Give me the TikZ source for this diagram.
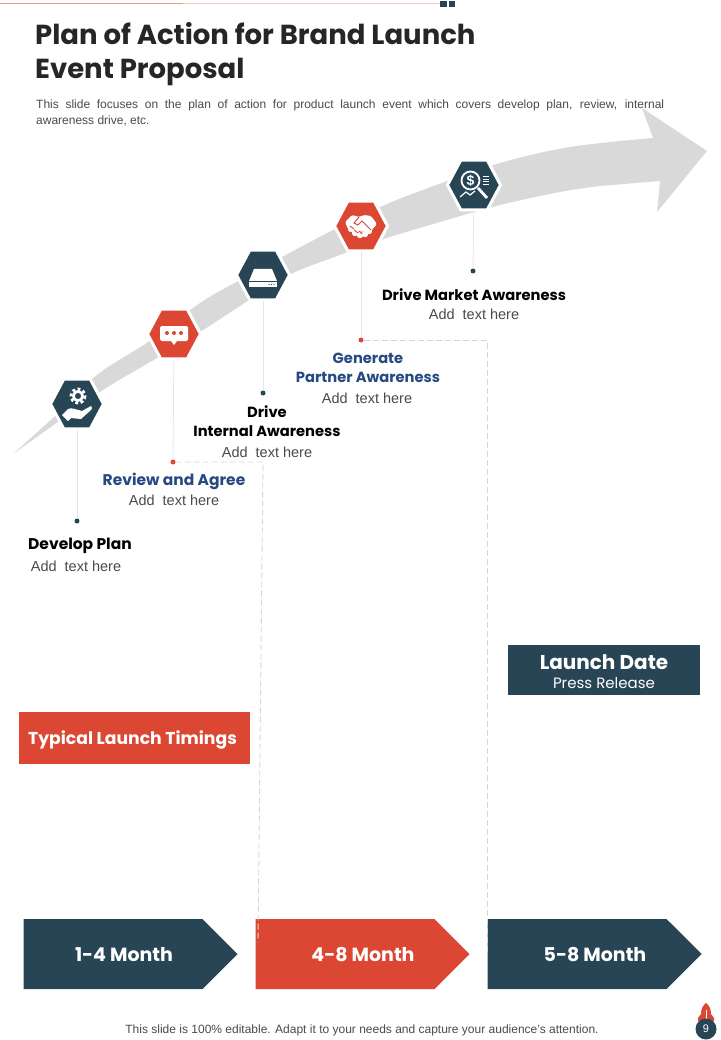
\documentclass[tikz,border=0pt]{standalone}
\usepackage{fontspec}
\setmainfont{Liberation Sans}
\newfontfamily\headfont{Poppins}
\usetikzlibrary{shapes.geometric,shapes.symbols}
\definecolor{navy}{HTML}{284555}
\definecolor{brick}{HTML}{DC4733}
\definecolor{band}{HTML}{D9D9D9}
\definecolor{inkblue}{HTML}{264A80}
\definecolor{bodygray}{HTML}{4A4A4A}
\definecolor{rulegray}{HTML}{D6D6D6}
\definecolor{stemgray}{HTML}{E6E6E6}
\tikzset{
  hexnode/.style={regular polygon, regular polygon sides=6, minimum size=53pt, inner sep=0pt,
    draw=white, line width=3pt, fill=#1, yscale=1.08, transform shape},
  dotnode/.style={circle, fill=#1, inner sep=0pt, minimum size=5pt},
  stepname/.style={font=\headfont\fontsize{15.5}{19}\selectfont\bfseries, align=center, inner sep=0pt, text=#1},
  longname/.style={font=\headfont\fontsize{14.7}{19}\selectfont\bfseries, align=center, inner sep=0pt, text=#1},
  addtext/.style={font=\fontsize{14.5}{16}\selectfont, text=bodygray, inner sep=0pt},
  monthnode/.style={signal, signal to=east, signal pointer angle=90, fill=#1, minimum width=214pt,
    minimum height=70pt, inner sep=0pt},
  monthtext/.style={text=white, inner sep=0pt, font=\headfont\fontsize{19}{21}\selectfont\bfseries},
  stemline/.style={stemgray, line width=0.8pt},
  dashline/.style={rulegray, line width=0.9pt, dash pattern=on 6pt off 3pt}
}
\begin{document}
\begin{tikzpicture}[x=1pt, y=-1pt]
  \useasboundingbox (0,0) rectangle (720,1040);
  % top rule
  \fill [brick!55!white] (0,3) rectangle (183,4.5);
  \fill [brick!30!white] (183,3) rectangle (440,4.5);
  \fill [navy] (440,1) rectangle (447,7);
  \fill [navy] (449,1) rectangle (455,7);
  \node [anchor=west, inner sep=0pt, align=left, text=black!85, font=\headfont\fontsize{27.5}{34}\selectfont\bfseries](title) at (35,54){Plan of Action for Brand Launch\\Event Proposal};
  \node [anchor=north west, inner sep=0pt, text width=628pt, align=justify, text=bodygray, font=\fontsize{12}{16}\selectfont](subtitle) at (36,100){This slide focuses on the plan of action for product launch event which covers develop plan, review, internal\linebreak awareness drive, etc.};
  % curved band
  \fill [band] (13,454) -- plot [smooth, tension=0.6] coordinates {(53,418) (97,375) (148,342) (200,303) (240,280) (282,257) (335,229) (387,204) (450,180) (500,163) (570,147) (653,138)}
    -- (642,108) -- (707,151) -- (657,212) -- (660,181)
    -- plot [smooth, tension=0.6] coordinates {(600,186) (560,192) (500,205) (440,222) (387,238) (337,256) (287,276) (240,306) (200,332) (157,358) (103,390) (55,424)} -- cycle;
  \node [hexnode=navy](hexPlan) at (77,404){};
  \node [hexnode=brick](hexReview) at (174,334){};
  \node [hexnode=navy](hexDrive) at (263,275){};
  \node [hexnode=brick](hexPartner) at (361,226){};
  \node [hexnode=navy](hexMarket) at (474,185){};
  \node [dotnode=navy](dotPlan) at (77,521){};
  \node [dotnode=brick](dotReview) at (173,462){};
  \node [dotnode=navy](dotDrive) at (263,393){};
  \node [dotnode=brick](dotPartner) at (361,340){};
  \node [dotnode=navy](dotMarket) at (473,271){};
  \draw [stemline] (hexPlan) -- (dotPlan);
  \draw [stemline] (hexReview) -- (dotReview);
  \draw [stemline] (hexDrive) -- (dotDrive);
  \draw [stemline] (hexPartner) -- (dotPartner);
  \draw [stemline] (hexMarket) -- (dotMarket);
  % icons
  \begin{scope}[shift={(hexPlan.center)}]
    \draw [white, line width=2.8pt, dash pattern=on 2.8pt off 2.6pt] (1,-8) circle (7);
    \draw [white, line width=2.6pt] (1,-8) circle (4.6);
    \fill [white] (-15,11) -- (-9,5) .. controls (-5,3) and (-1,6) .. (2,6) -- (5,7) -- (14,2) .. controls (16,3) and (15,5) .. (14,6) -- (4,15) -- (-6,14) -- (-9,17) -- cycle;
  \end{scope}
  \begin{scope}[shift={(hexReview.center)}]
    \fill [white, rounded corners=1.5pt] (-14,-8) rectangle (14,7);
    \fill [white] (-3,7) -- (0,11) -- (3,7) -- cycle;
    \foreach \dotx in {-7,0,7}
      \fill [brick] (\dotx,-1) circle (2);
  \end{scope}
  \begin{scope}[shift={(hexDrive.center)}]
    \fill [white] (-9,-6) -- (9,-6) -- (14,6) -- (-14,6) -- cycle;
    \fill [white] (-14,7) rectangle (14,12);
    \foreach \dotx in {6,8.5,11}
      \fill [navy] (\dotx,9.5) circle (0.7);
  \end{scope}
  \begin{scope}[shift={(hexPartner.center)}]
    \fill [white, rounded corners=1.5pt] (-16,-4) -- (-9,-11) -- (-2,-9) -- (3,-11) -- (10,-10) -- (16,-2) -- (10,5) -- (-6,6) -- (-13,3) -- cycle;
    \foreach \fingerx/\fingery in {-10/3,-6/7,-1/9,4/8,8/5}
      \fill [white] (\fingerx,\fingery) circle (3.2);
    \draw [brick, line width=1pt] (-2,-9) -- (-7,-3) -- (-3,-1) -- (1,-5) -- (10,4);
    \draw [brick, line width=0.9pt] (-11,0) -- (-7,3) (-7,4) -- (-3,7) (-2,5) -- (1,8);
  \end{scope}
  \begin{scope}[shift={(hexMarket.center)}]
    \draw [white, line width=1.8pt] (-3.5,-4.5) circle (9);
    \node [text=white, inner sep=0pt, font=\fontsize{14}{14}\selectfont\bfseries](dollar) at (-3.5,-4.5){\$};
    \draw [white, line width=2.8pt] (4,3) -- (13,13);
    \draw [white, line width=1pt] (9,-8) -- (15,-8) (9,-5.5) -- (15,-5.5) (9,-3) -- (15,-3) (9,-0.5) -- (15,-0.5);
    \draw [white, line width=1.2pt] (-14,12) -- (-8,7) -- (-4,10) -- (1,6);
  \end{scope}
  % step labels
  \node [stepname=black](namePlan) at (80,546){Develop Plan};
  \node [addtext](addPlan) at (76,566){Add\ \ text here};
  \node [stepname=inkblue](nameReview) at (174,481){Review and Agree};
  \node [addtext](addReview) at (174,500){Add\ \ text here};
  \node [longname=black](nameDrive) at (267,421.5){Drive\\Internal Awareness};
  \node [addtext](addDrive) at (267,452){Add\ \ text here};
  \node [longname=inkblue](namePartner) at (368,367.5){Generate\\Partner Awareness};
  \node [addtext](addPartner) at (367,398){Add\ \ text here};
  \node [longname=black](nameMarket) at (474,295){Drive Market Awareness};
  \node [addtext](addMarket) at (474,314){Add\ \ text here};
  % timing boxes
  \node [fill=brick, minimum width=231pt, minimum height=52pt, inner sep=0pt](typical) at (134.5,738){};
  \node [text=white, inner sep=0pt, font=\headfont\fontsize{17.2}{20}\selectfont\bfseries](typicalText) at (132.5,740){Typical Launch Timings};
  \node [fill=navy, minimum width=192pt, minimum height=50pt, inner sep=0pt](launch) at (604,670){};
  \node [text=white, inner sep=0pt, font=\headfont\fontsize{20}{21}\selectfont\bfseries](launchText) at (604,662){Launch Date};
  \node [text=white, inner sep=0pt, font=\headfont\fontsize{15}{17}\selectfont](pressText) at (604,683){Press Release};
  \node [monthnode=navy](monthA) at (113,954){};
  \node [monthnode=brick](monthB) at (345,954){};
  \node [monthnode=navy](monthC) at (577,954){};
  \node [monthtext](labelA) at (124,955){1-4 Month};
  \node [monthtext](labelB) at (363,955){4-8 Month};
  \node [monthtext](labelC) at (595,955){5-8 Month};
  % dashed leaders
  \coordinate (cornerReview) at (263,462);
  \coordinate (footReview) at (258,942);
  \coordinate (cornerPartner) at (487,340);
  \coordinate (footPartner) at (487,952);
  \draw [dashline] (dotReview) -- (cornerReview) -- (footReview);
  \draw [dashline] (dotPartner) -- (cornerPartner) -- (footPartner);
  % footer
  \node [text=bodygray, inner sep=0pt, font=\fontsize{12}{14}\selectfont](footer) at (362,1030){This slide is 100\% editable. Adapt it to your needs and capture your audience's attention.};
  \fill [brick] (706,1003) .. controls (709,1005) and (711,1009) .. (711,1014) -- (714,1018) -- (714,1021) -- (698,1021) -- (698,1018) -- (701,1014) .. controls (701,1009) and (703,1005) .. (706,1003);
  \draw [white, line width=0.6pt] (706,1010) -- (706,1020);
  \node [circle, fill=navy, text=white, minimum size=21pt, inner sep=0pt, font=\fontsize{11}{12}\selectfont](pagenum) at (706,1029){9};
\end{tikzpicture}
\end{document}
